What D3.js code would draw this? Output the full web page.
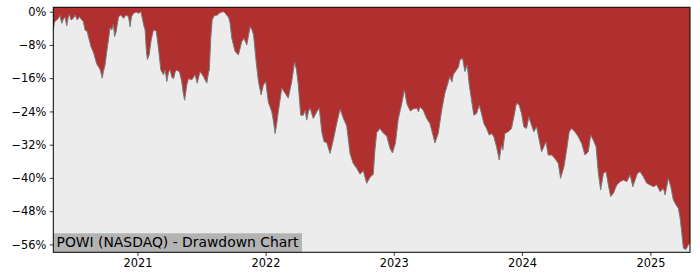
<!DOCTYPE html>
<html><head><meta charset="utf-8">
<script src="https://cdn.jsdelivr.net/npm/d3@7"></script>
<style>html,body{margin:0;padding:0;background:#fff;}svg{display:block;}</style>
</head><body>
<svg id="chart" width="700" height="280"></svg>
<script>
// Decimal-year dates of each observation
const dates = [2020.345,2020.354,2020.372,2020.386,2020.397,2020.411,2020.423,2020.436,2020.450,2020.460,
2020.470,2020.483,2020.501,2020.514,2020.532,2020.548,2020.567,2020.579,2020.592,2020.610,
2020.618,2020.631,2020.639,2020.657,2020.683,2020.704,2020.713,2020.726,2020.735,2020.748,
2020.761,2020.774,2020.787,2020.800,2020.813,2020.822,2020.834,2020.846,2020.853,2020.871,
2020.891,2020.912,2020.930,2020.943,2020.953,2020.969,2020.990,2021.008,2021.027,2021.047,
2021.060,2021.070,2021.078,2021.091,2021.107,2021.125,2021.146,2021.164,2021.182,2021.203,
2021.216,2021.229,2021.243,2021.255,2021.268,2021.281,2021.294,2021.307,2021.328,2021.346,
2021.356,2021.368,2021.385,2021.399,2021.424,2021.450,2021.466,2021.489,2021.515,2021.541,
2021.555,2021.561,2021.572,2021.583,2021.598,2021.624,2021.645,2021.671,2021.684,2021.697,
2021.711,2021.723,2021.736,2021.749,2021.762,2021.788,2021.814,2021.832,2021.853,2021.879,
2021.894,2021.906,2021.926,2021.944,2021.965,2021.983,2022.001,2022.021,2022.048,2022.062,
2022.074,2022.085,2022.099,2022.126,2022.152,2022.177,2022.204,2022.226,2022.241,2022.255,
2022.274,2022.294,2022.308,2022.321,2022.335,2022.347,2022.372,2022.399,2022.419,2022.438,
2022.456,2022.477,2022.503,2022.528,2022.552,2022.581,2022.606,2022.633,2022.659,2022.684,
2022.711,2022.737,2022.762,2022.789,2022.814,2022.840,2022.853,2022.867,2022.892,2022.918,
2022.945,2022.970,2022.990,2023.013,2023.035,2023.062,2023.083,2023.103,2023.129,2023.152,
2023.179,2023.193,2023.204,2023.230,2023.257,2023.282,2023.306,2023.321,2023.347,2023.374,
2023.399,2023.419,2023.438,2023.454,2023.464,2023.490,2023.505,2023.516,2023.537,2023.555,
2023.573,2023.589,2023.607,2023.625,2023.646,2023.667,2023.685,2023.703,2023.724,2023.745,
2023.763,2023.781,2023.802,2023.823,2023.841,2023.851,2023.867,2023.893,2023.919,2023.937,
2023.958,2023.979,2023.997,2024.015,2024.036,2024.054,2024.075,2024.093,2024.114,2024.135,
2024.153,2024.171,2024.187,2024.205,2024.231,2024.257,2024.283,2024.301,2024.327,2024.348,
2024.368,2024.387,2024.413,2024.439,2024.465,2024.491,2024.517,2024.535,2024.556,2024.577,
2024.595,2024.613,2024.634,2024.655,2024.673,2024.691,2024.712,2024.738,2024.764,2024.790,
2024.816,2024.842,2024.863,2024.881,2024.899,2024.920,2024.945,2024.972,2024.998,2025.023,
2025.050,2025.076,2025.101,2025.115,2025.140,2025.159,2025.179,2025.200,2025.218,2025.232,
2025.245,2025.257,2025.278,2025.296,2025.309];

// Drawdown from running peak, percent
const drawdown = [-4.4,-2.5,-2.0,-1.5,-0.9,-2.8,-1.8,-1.3,-3.4,-1.5,
-0.6,-2.0,-1.6,-0.8,-2.0,-1.2,-2.0,-2.4,-4.4,-4.8,
-6.0,-7.5,-8.5,-9.7,-12.6,-13.6,-14.3,-16.0,-14.4,-12.8,
-9.6,-6.8,-3.8,-4.4,-3.0,-6.0,-4.8,-2.5,-1.2,-0.8,
-1.6,-0.8,-1.2,-3.6,-1.3,-0.4,-0.1,-0.4,0,-3.0,
-4.4,-9.7,-11.5,-10.4,-6.8,-4.4,-4.6,-8.8,-14.0,-15.2,
-14.0,-16.8,-14.5,-14.0,-15.7,-16.2,-14.5,-14.0,-14.5,-16.9,
-19.3,-21.3,-17.6,-16.1,-16.4,-15.2,-17.2,-14.4,-15.6,-17.2,
-14.5,-14.0,-6.4,-2.0,-1.0,-0.8,-0.2,0,-0.3,-0.9,
-1.3,-2.8,-6.4,-8.0,-9.6,-10.4,-7.2,-6.4,-8.0,-3.6,
-4.4,-5.6,-12.0,-16.8,-20.0,-17.6,-16.8,-21.7,-24.1,-26.5,
-29.3,-27.3,-24.1,-18.4,-19.6,-20.8,-16.8,-12.1,-14.0,-17.6,
-24.9,-24.9,-23.7,-26.1,-23.9,-23.2,-25.7,-24.1,-23.2,-28.9,
-31.3,-31.5,-34.1,-30.9,-27.3,-23.4,-25.6,-27.5,-34.2,-36.5,
-37.7,-39.1,-38.3,-41.3,-39.9,-39.1,-33.3,-29.1,-28.1,-29.2,
-29.9,-32.8,-34.0,-31.6,-25.8,-22.2,-18.8,-22.2,-23.9,-23.4,
-23.2,-24.1,-22.9,-23.7,-25.7,-26.9,-29.7,-31.6,-29.3,-23.7,
-19.6,-17.6,-15.6,-16.9,-15.2,-14.0,-13.3,-11.6,-11.2,-14.4,
-12.8,-17.6,-21.3,-24.9,-24.5,-22.5,-24.5,-26.9,-28.1,-29.7,
-29.3,-30.1,-32.5,-35.7,-32.1,-33.3,-29.3,-28.9,-28.1,-25.3,
-22.0,-22.5,-24.5,-27.7,-28.1,-25.3,-27.3,-28.9,-27.7,-30.9,
-33.7,-32.5,-31.3,-34.5,-34.5,-35.3,-36.5,-40.1,-37.3,-33.3,
-28.9,-28.1,-28.9,-30.1,-31.7,-34.5,-33.7,-29.7,-30.9,-32.5,
-38.9,-42.9,-38.9,-38.5,-41.7,-44.5,-43.7,-41.7,-40.9,-40.5,
-40.9,-39.3,-42.1,-40.5,-38.9,-38.5,-39.7,-41.3,-41.7,-42.1,
-41.7,-43.3,-42.5,-44.1,-40.1,-42.1,-45.3,-46.5,-47.3,-49.7,
-53.3,-56.9,-57.2,-56.1,-55.8];

const yTicks = [0,-8,-16,-24,-32,-40,-48,-56];
const xTickYears = [2021,2022,2023,2024,2025];
const title = "POWI (NASDAQ) - Drawdown Chart";

function decYearToDate(v){
  const y = Math.floor(v);
  const s = Date.UTC(y,0,1), e = Date.UTC(y+1,0,1);
  return new Date(s + (v - y) * (e - s));
}
const data = dates.map((d,i)=>({date:decYearToDate(d), value:drawdown[i]}));

const svg = d3.select("#chart");
const m = {left:53.3, right:10, top:7.3, bottom:27.7};
const W = 700, H = 280;
const x = d3.scaleUtc().domain(d3.extent(data,d=>d.date)).range([m.left, W-m.right]);
const y = d3.scaleLinear().domain([-57.9, 1.06]).range([H-m.bottom, m.top]);

const g = svg.append("g");
// plot background
g.append("rect").attr("x",m.left).attr("y",m.top)
 .attr("width",W-m.right-m.left).attr("height",H-m.bottom-m.top).attr("fill","#ececec");

// red area from top to curve
const area = d3.area().x(d=>x(d.date)).y0(m.top).y1(d=>y(d.value));
g.append("path").datum(data).attr("d",area).attr("fill","#b03030");
const line = d3.line().x(d=>x(d.date)).y(d=>y(d.value));
g.append("path").datum(data).attr("d",line).attr("fill","none")
 .attr("stroke","#7a7a7a").attr("stroke-width",1);

// label box
const lab = g.append("g");
const txt = lab.append("text").attr("x",56.5).attr("y",246.8)
 .attr("font-family","DejaVu Sans").attr("font-size","13.9px").attr("fill","#000").text(title);
const bb = txt.node().getBBox();
lab.insert("rect","text").attr("x",m.left).attr("y",233.3)
 .attr("width",bb.x + bb.width + 3 - m.left).attr("height",H-m.bottom-233.3).attr("fill","#b3b3b3");

// axes
const fmt = d => d3.format("d")(d) + "%";
const yAxis = d3.axisLeft(y).tickValues(yTicks).tickFormat(d=>(d<0?"\u2212"+(-d):d)+"%").tickSizeOuter(0).tickSize(3.5).tickPadding(3.5);
const xAxis = d3.axisBottom(x).tickValues(xTickYears.map(v=>new Date(Date.UTC(v,0,1)))).tickFormat(d3.utcFormat("%Y")).tickSizeOuter(0).tickSize(3.5).tickPadding(3.5);
const ya = svg.append("g").attr("transform",`translate(${m.left},0)`).call(yAxis);
const xa = svg.append("g").attr("transform",`translate(0,${H-m.bottom})`).call(xAxis);
[ya,xa].forEach(a=>{
  a.select(".domain").remove();
  a.selectAll("text").attr("font-family","DejaVu Sans").attr("font-size","11.4px").attr("fill","#000");
  a.selectAll("line").attr("stroke","#000").attr("stroke-width",0.8);
});
// frame
svg.append("rect").attr("x",m.left).attr("y",m.top)
 .attr("width",W-m.right-m.left).attr("height",H-m.bottom-m.top)
 .attr("fill","none").attr("stroke","#000").attr("stroke-width",1);
</script>
</body></html>
